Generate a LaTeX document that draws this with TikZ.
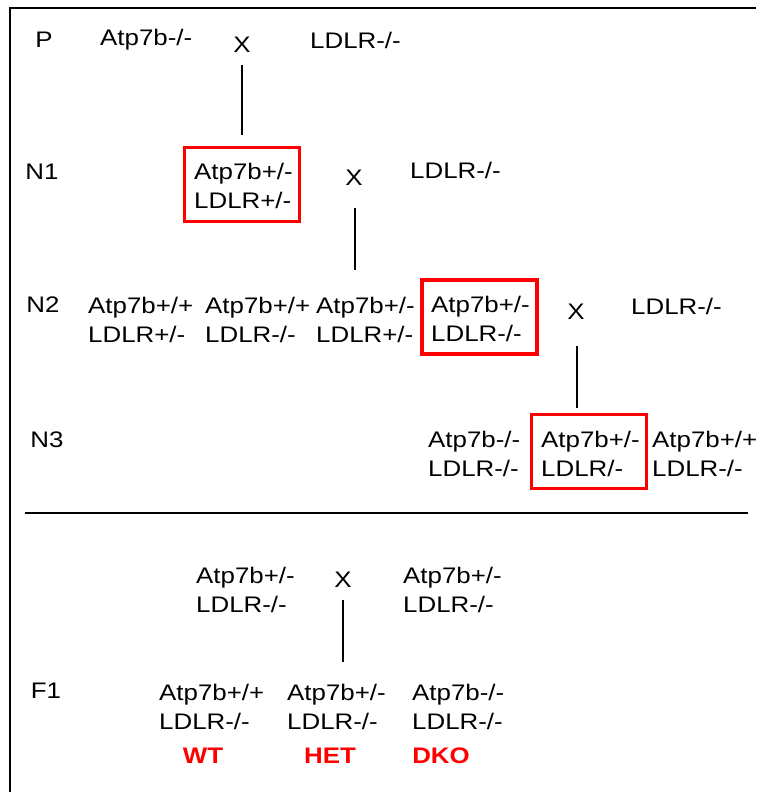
\documentclass[tikz,border=0pt]{standalone}
\usepackage{fontspec}
\setmainfont{Liberation Sans}[FakeStretch=1.15]
\begin{document}
\begin{tikzpicture}[x=1pt,y=-1pt,
  txt/.style={inner sep=0pt, align=left, font=\fontsize{22.5}{29}\selectfont},
  redbox/.style={draw=red, line width=3.2pt, minimum width=115pt, minimum height=74pt, inner sep=0pt},
  cross/.style={inner sep=0pt, font=\fontsize{22.5}{29}\selectfont},
  res/.style={inner sep=0pt, text=red, font=\bfseries\fontsize{22.5}{29}\selectfont},
  conn/.style={line width=1.2pt},
  frame/.style={line width=2pt}]
\useasboundingbox (0,0) rectangle (756,792);
\draw[frame] (10,792) -- (10,8) -- (756,8);
\coordinate (sepL) at (25,513);
\coordinate (sepR) at (748,513);
\draw[line width=1.2pt] (sepL) -- (sepR);
% P
\node[txt] (pL) at (44,40) {P};
\node[txt, anchor=west] (pA) at (100,40) {Atp7b-/-};
\node[cross] (xP) at (242,45) {X};
\node[txt, anchor=west] (pB) at (310,40) {LDLR-/-};
% N1
\node[txt] (n1L) at (42,172) {N1};
\node[redbox] (n1A) at (242,184.5) {};
\node[txt, anchor=west] (n1At) at (194,185.5) {Atp7b+/-\\LDLR+/-};
\node[cross] (xN1) at (354,178) {X};
\node[txt, anchor=west] (n1B) at (410,170) {LDLR-/-};
% N2
\node[txt] (n2L) at (43,305) {N2};
\node[txt, anchor=west] (n2a) at (88,320) {Atp7b+/+\\LDLR+/-};
\node[txt, anchor=west] (n2b) at (205,320) {Atp7b+/+\\LDLR-/-};
\node[txt, anchor=west] (n2c) at (316,320) {Atp7b+/-\\LDLR+/-};
\node[redbox] (n2d) at (479.5,317) {};
\node[txt, anchor=west] (n2dt) at (431,319) {Atp7b+/-\\LDLR-/-};
\node[cross] (xN2) at (576,312) {X};
\node[txt, anchor=west] (n2B) at (631,306) {LDLR-/-};
% N3
\node[txt] (n3L) at (47,440) {N3};
\node[txt, anchor=west] (n3a) at (428,454) {Atp7b-/-\\LDLR-/-};
\node[redbox] (n3b) at (589,451.5) {};
\node[txt, anchor=west] (n3bt) at (541,454) {Atp7b+/-\\LDLR/-};
\node[txt, anchor=west] (n3c) at (652,454) {Atp7b+/+\\LDLR-/-};
% F1 parents
\node[txt, anchor=west] (fA) at (196,590) {Atp7b+/-\\LDLR-/-};
\node[cross] (xF) at (343,580) {X};
\node[txt, anchor=west] (fB) at (403,590) {Atp7b+/-\\LDLR-/-};
% F1
\node[txt] (f1L) at (46,691) {F1};
\node[txt, anchor=west] (fa) at (159,707) {Atp7b+/+\\LDLR-/-};
\node[txt, anchor=west] (fb) at (287,707) {Atp7b+/-\\LDLR-/-};
\node[txt, anchor=west] (fc) at (412,707) {Atp7b-/-\\LDLR-/-};
\node[res] (wt) at (203,756) {WT};
\node[res] (het) at (330,756) {HET};
\node[res] (dko) at (441,756) {DKO};
% connectors
\coordinate (c1) at (242,65);
\coordinate (c1e) at (242,135);
\coordinate (c2) at (355,208);
\coordinate (c3) at (355,270);
\coordinate (c4) at (577,346);
\coordinate (c4e) at (577,408);
\coordinate (c5) at (343,600);
\coordinate (c6) at (343,662);
\draw[conn] (c1) -- (c1e);
\draw[conn] (c2) -- (c3);
\draw[conn] (c4) -- (c4e);
\draw[conn] (c5) -- (c6);
\end{tikzpicture}
\end{document}
